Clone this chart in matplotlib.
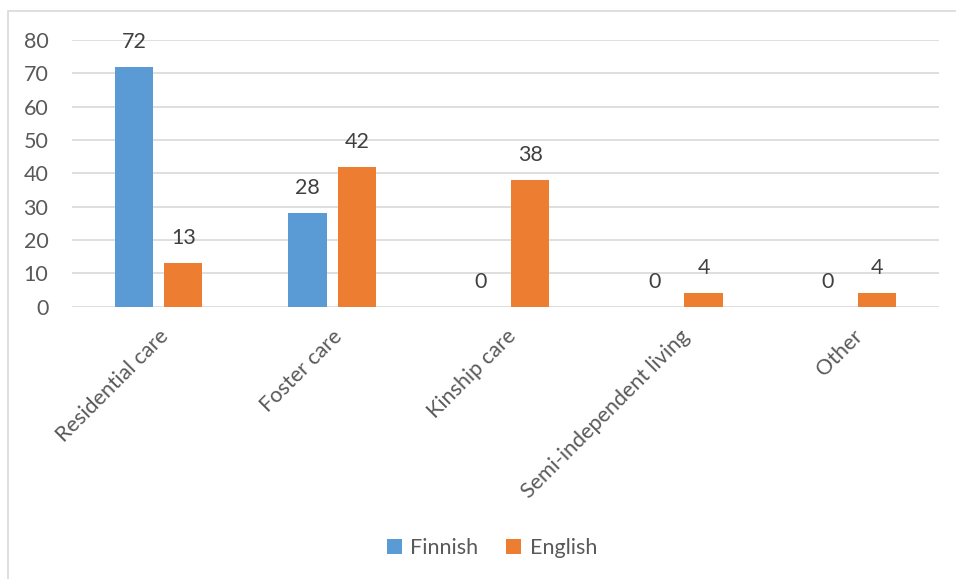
import numpy as np
import matplotlib.pyplot as plt
from matplotlib.patches import Rectangle

# Placement type by language group (%)
categories = ["Residential care", "Foster care", "Kinship care",
              "Semi-independent living", "Other"]
finnish = [72, 28, 0, 0, 0]
english = [13, 42, 38, 4, 4]
yticks = [0, 10, 20, 30, 40, 50, 60, 70, 80]

BLUE = "#5B9BD5"
ORANGE = "#ED7D31"
GRID = "#D9D9D9"
TXT = "#595959"
FS = 15.5

plt.rcParams["font.family"] = ["Lato", "DejaVu Sans"]

W, H = 956, 579
fig = plt.figure(figsize=(W / 100, H / 100), dpi=100)
ax = fig.add_axes([72 / W, 1 - 306.7 / H, (939 - 72) / W, (306.7 - 40) / H])

x = np.arange(len(categories))
bw = 0.22
off = 0.142
b1 = ax.bar(x - off, finnish, bw, color=BLUE, label="Finnish", zorder=3)
b2 = ax.bar(x + off, english, bw, color=ORANGE, label="English", zorder=3)

for bars, vals in ((b1, finnish), (b2, english)):
    for rect, v in zip(bars, vals):
        ax.annotate(str(v), (rect.get_x() + rect.get_width() / 2, v),
                    xytext=(0, 18), textcoords="offset points",
                    ha="center", va="center", fontsize=FS, color="#404040")

ax.set_xlim(-0.5, len(categories) - 0.5)
ax.set_ylim(0, 80)
ax.set_yticks(yticks)
ax.yaxis.grid(True, color=GRID, linewidth=1.2, zorder=0)
ax.tick_params(axis="y", length=0, labelsize=FS, labelcolor=TXT, pad=17)
ax.set_xticks(x)
ax.set_xticklabels(categories, rotation=45, ha="right", rotation_mode="anchor",
                   fontsize=FS, color=TXT)
ax.tick_params(axis="x", length=0, pad=14)
for s in ax.spines.values():
    s.set_visible(False)

fig.legend(handles=[b1, b2], loc="center", bbox_to_anchor=(492 / W, 1 - 548 / H),
           ncol=2, frameon=False, fontsize=FS, labelcolor=TXT,
           handlelength=0.7, handleheight=0.7, handletextpad=0.4, columnspacing=1.3)

# light frame around the chart area
fig.patches.append(Rectangle((8 / W, -0.05), 1.1, 1 - 11 / H + 0.05,
                             transform=fig.transFigure, fill=False,
                             edgecolor=GRID, linewidth=1.2))

fig.savefig("out.png", dpi=100)
